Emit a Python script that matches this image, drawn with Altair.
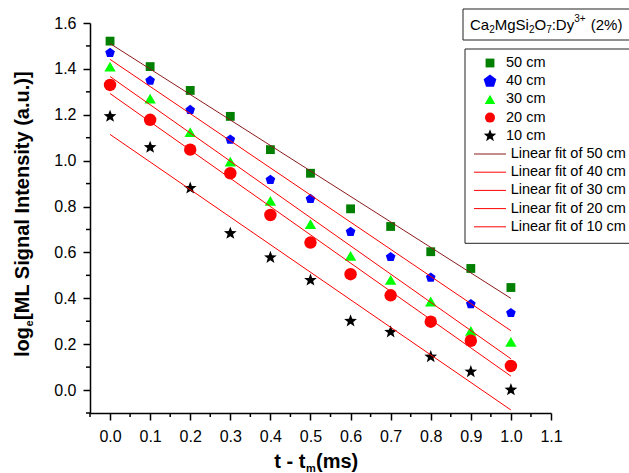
import math
import altair as alt
import pandas as pd

# ---------------- data ----------------
t_ms = [0.0, 0.1, 0.2, 0.3, 0.4, 0.5, 0.6, 0.7, 0.8, 0.9, 1.0]
series = ["50 cm", "40 cm", "30 cm", "20 cm", "10 cm"]
v_50 = [1.521, 1.410, 1.306, 1.193, 1.048, 0.945, 0.790, 0.713, 0.603, 0.530, 0.447]
v_40 = [1.470, 1.349, 1.221, 1.092, 0.916, 0.833, 0.690, 0.580, 0.490, 0.375, 0.336]
v_30 = [1.410, 1.270, 1.124, 0.996, 0.825, 0.723, 0.585, 0.480, 0.386, 0.258, 0.210]
v_20 = [1.330, 1.178, 1.048, 0.945, 0.763, 0.643, 0.505, 0.413, 0.298, 0.215, 0.105]
v_10 = [1.193, 1.058, 0.880, 0.683, 0.578, 0.479, 0.301, 0.253, 0.145, 0.080, 0.001]
fit_labels = ["Linear fit of 50 cm", "Linear fit of 40 cm", "Linear fit of 30 cm",
              "Linear fit of 20 cm", "Linear fit of 10 cm"]
x_ticks = [0.0, 0.1, 0.2, 0.3, 0.4, 0.5, 0.6, 0.7, 0.8, 0.9, 1.0, 1.1]
x_minor = [-0.05, 0.05, 0.15, 0.25, 0.35, 0.45, 0.55, 0.65, 0.75, 0.85, 0.95, 1.05]
y_ticks = [0.0, 0.2, 0.4, 0.6, 0.8, 1.0, 1.2, 1.4, 1.6]
y_minor = [-0.1, 0.1, 0.3, 0.5, 0.7, 0.9, 1.1, 1.3, 1.5]

values = [v_50, v_40, v_30, v_20, v_10]
df = pd.DataFrame(
    [{"t": t, "v": v, "series": s} for s, vals in zip(series, values) for t, v in zip(t_ms, vals)]
)

# ---------------- styles ----------------
marker_colors = ["#007f00", "#0000ff", "#00ff00", "#ff0000", "#000000"]
fit_colors = ["#8b1a1a", "#ff0000", "#ff0000", "#ff0000", "#ff0000"]


def poly_path(pts):
    return "M" + "L".join(f"{x:.4f},{y:.4f}" for x, y in pts) + "Z"


pent = [(math.cos(math.radians(-90 + 72 * k)), math.sin(math.radians(-90 + 72 * k))) for k in range(5)]
star = [((1.0 if k % 2 == 0 else 0.42) * math.cos(math.radians(-90 + 36 * k)),
         (1.0 if k % 2 == 0 else 0.42) * math.sin(math.radians(-90 + 36 * k))) for k in range(10)]
shapes = ["square", poly_path(pent), "triangle-up", "circle", poly_path(star)]
sizes = [78, 180, 112, 100, 175]

W, H = 461, 390
FONT = "Liberation Sans"
xscale = alt.Scale(domain=[-0.05, 1.1], nice=False, zero=False)
yscale = alt.Scale(domain=[-0.1, 1.6], nice=False, zero=False)

axis_common = dict(title=None, grid=False, domainColor="black", domainWidth=1.5,
                   tickColor="black", tickWidth=1.5, tickSize=7, labelFont=FONT,
                   labelFontSize=16, labelColor="black", labelOverlap=False, format=".1f")
x_axis = alt.Axis(values=x_ticks, labelPadding=8, labelFlush=False, **axis_common)
y_axis = alt.Axis(values=y_ticks, labelPadding=7, **axis_common)

points = alt.Chart(df).mark_point(filled=True, opacity=1, strokeWidth=0).encode(
    x=alt.X("t:Q", scale=xscale, axis=x_axis),
    y=alt.Y("v:Q", scale=yscale, axis=y_axis),
    fill=alt.Fill("series:N", scale=alt.Scale(domain=series, range=marker_colors), legend=None),
    shape=alt.Shape("series:N", scale=alt.Scale(domain=series, range=shapes), legend=None),
    size=alt.Size("series:N", scale=alt.Scale(domain=series, range=sizes), legend=None),
)

fits = alt.Chart(df).transform_regression(
    "t", "v", groupby=["series"], extent=[0, 1]
).mark_line(strokeWidth=1).encode(
    x=alt.X("t:Q", scale=xscale, axis=x_axis),
    y=alt.Y("v:Q", scale=yscale, axis=y_axis),
    stroke=alt.Stroke("series:N", scale=alt.Scale(domain=series, range=fit_colors), legend=None),
    detail="series:N",
)

# minor ticks (drawn through the shared scales)
xminor = alt.Chart(pd.DataFrame({"t": x_minor})).mark_rule(color="black", strokeWidth=1.5).encode(
    x=alt.X("t:Q", scale=xscale, axis=x_axis), y=alt.value(H), y2=alt.value(H + 4)
)
yminor = alt.Chart(pd.DataFrame({"v": y_minor})).mark_rule(color="black", strokeWidth=1.5).encode(
    y=alt.Y("v:Q", scale=yscale, axis=y_axis), x=alt.value(0), x2=alt.value(-4)
)

# ---------------- text helpers ----------------
REG = {"C": .722, "a": .556, "M": .833, "g": .556, "S": .667, "i": .222, "O": .778, ":": .278,
       "D": .722, "y": .5, "3": .556, "+": .584, " ": .278, "(": .333, "2": .556, "%": .889,
       ")": .333, "7": .556}
BOLD = {"t": .333, " ": .278, "-": .333, "m": .889, "(": .333, "s": .556, ")": .333,
        "l": .278, "o": .611, "g": .611, "e": .556}


def tw(s, size, bold=False):
    tab = BOLD if bold else REG
    return sum(tab.get(c, .556) for c in s) * size


dummy = pd.DataFrame({"a": [0]})


def txt(s, x, y, size, bold=False, align="left", baseline="alphabetic", angle=0):
    return alt.Chart(dummy).mark_text(
        text=s, font=FONT, fontSize=size, fontWeight="bold" if bold else "normal",
        align=align, baseline=baseline, angle=angle, color="black"
    ).encode(x=alt.value(x), y=alt.value(y))


layers = [points, fits, xminor, yminor]

# x-axis title: t - t_m(ms)
XT, XS = 20, 11
x0, yb = 184.3, 444.5
layers.append(txt("t - t", x0, yb, XT, bold=True))
x1 = x0 + tw("t - t", XT, True) + 0.5
layers.append(txt("m", x1, yb + 4, XS, bold=True))
x2 = x1 + tw("m", XS, True) + 0.3
layers.append(txt("(ms)", x2, yb, XT, bold=True))

# y-axis title: log_e[ML Signal Intensity (a.u.)] (rotated)
YT, YS = 20, 11
xb, ys = -60.7, 334
layers.append(txt("log", xb, ys, YT, bold=True, angle=270))
ys2 = ys - tw("log", YT, True) - 0.5
layers.append(txt("e", xb + 4, ys2, YS, bold=True, angle=270))
ys3 = ys2 - tw("e", YS, True) - 0.5
layers.append(txt("[ML Signal Intensity (a.u.)]", xb, ys3, YT, bold=True, angle=270))

# legend boxes
box = lambda x0_, y0_, x1_, y1_: alt.Chart(dummy).mark_rect(
    fill="white", stroke="#222222", strokeWidth=1
).encode(x=alt.value(x0_), x2=alt.value(x1_), y=alt.value(y0_), y2=alt.value(y1_))
layers.append(box(373, -14, 545, 17))
layers.append(box(375, 26, 545, 220.3))

# legend title: Ca2MgSi2O7:Dy3+ (2%)
LT, LS = 15, 10
pieces = [("Ca", 0), ("2", 1), ("MgSi", 0), ("2", 1), ("O", 0), ("7", 1), (":Dy", 0), ("3+", 2), ("(2%)", 3)]
cx, base = 380, 7
for s, kind in pieces:
    size = LS if kind in (1, 2) else LT
    if kind == 3:
        cx += tw(" ", LT) + 1
    yy = base + 3.3 if kind == 1 else (base - 8.3 if kind == 2 else base)
    layers.append(txt(s, cx, yy, size))
    cx += tw(s, size)

# legend entries
row_y = [40 + 18.2 * i for i in range(10)]
for i, s in enumerate(series):
    layers.append(alt.Chart(dummy).mark_point(
        shape=shapes[i], filled=True, fill=marker_colors[i], color=marker_colors[i],
        size=sizes[i], opacity=1, strokeWidth=0
    ).encode(x=alt.value(400), y=alt.value(row_y[i])))
    layers.append(txt(s, 416, row_y[i], 14.5, baseline="middle"))
for i, s in enumerate(fit_labels):
    yy = row_y[5 + i]
    layers.append(alt.Chart(dummy).mark_rule(color=fit_colors[i], strokeWidth=1).encode(
        x=alt.value(384), x2=alt.value(416), y=alt.value(yy)))
    layers.append(txt(s, 420.7, yy, 14.5, baseline="middle"))

chart = alt.layer(*layers).properties(
    width=W, height=H,
    padding={"left": 90, "top": 23, "right": 78, "bottom": 60},
    autosize=alt.AutoSizeParams(type="none"),
    background="white",
).configure_view(strokeWidth=0)

chart.save("out.html", embed_options={"renderer": "svg", "actions": False})
